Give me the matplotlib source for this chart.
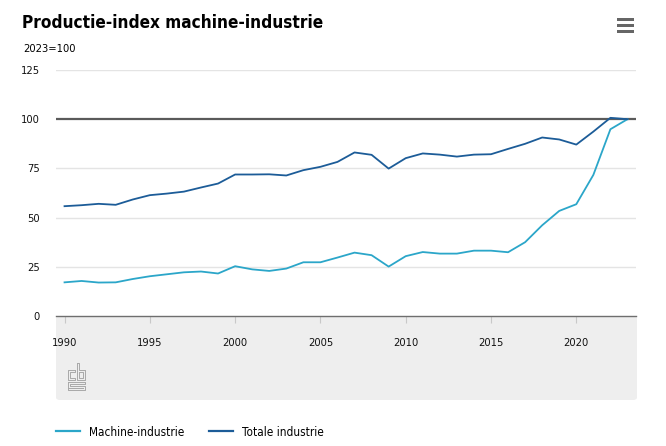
import matplotlib
matplotlib.use('Agg')
import matplotlib.pyplot as plt
from matplotlib import font_manager as fm
from matplotlib.patches import FancyBboxPatch, Rectangle
from matplotlib.lines import Line2D

# data (2023=100)
years = list(range(1990, 2024))
machine = [17.1, 17.8, 17.0, 17.1, 18.8, 20.2, 21.2, 22.2, 22.6, 21.6,
           25.3, 23.7, 22.9, 24.1, 27.3, 27.3, 29.7, 32.2, 30.9, 25.1,
           30.4, 32.5, 31.7, 31.7, 33.2, 33.2, 32.4, 37.5, 46.1, 53.4,
           56.8, 71.7, 94.9, 100.0]
totaal = [55.8, 56.3, 57.0, 56.5, 59.2, 61.4, 62.2, 63.2, 65.3, 67.3,
          71.9, 71.9, 72.0, 71.4, 74.1, 75.8, 78.3, 83.1, 81.9, 74.9,
          80.2, 82.6, 82.0, 81.0, 82.0, 82.2, 84.9, 87.5, 90.7, 89.7,
          87.1, 93.7, 100.7, 100.0]
yticks = [0, 25, 50, 75, 100, 125]
xticks = [1990, 1995, 2000, 2005, 2010, 2015, 2020]

c_machine = '#2ba6c9'
c_totaal = '#1c5c98'


# look for a narrow font, the CBS one is condensed
def find_font(keys, bold):
    for f in fm.fontManager.ttflist:
        fn = f.fname.replace('-', '').replace('_', '').lower()
        if not any(k in fn for k in keys):
            continue
        isbold = 'bold' in fn
        if isbold == bold and 'oblique' not in fn and 'italic' not in fn:
            return f.fname
    return None

keys = ['dejavusanscondensed', 'liberationsansnarrow', 'robotocondensed',
        'opensanscondensed']
reg_file = find_font(keys, False)
bold_file = find_font(keys, True)


def fp(size, bold=False):
    path = bold_file if bold else reg_file
    if path:
        return fm.FontProperties(fname=path, size=size)
    return fm.FontProperties(family='DejaVu Sans', size=size,
                             weight='bold' if bold else 'normal')


W, H = 666, 446
fig = plt.figure(figsize=(W / 100, H / 100), dpi=100)


def fx(px):
    return px / W


def fy(py):
    return 1 - py / H


# grey band under the x axis
band = FancyBboxPatch((fx(56), fy(400)), fx(637) - fx(56), fy(316) - fy(400),
                      boxstyle='round,pad=0,rounding_size=0.006',
                      transform=fig.transFigure, facecolor='#eeeeee',
                      edgecolor='none', zorder=-5)
fig.patches.append(band)

ax = fig.add_axes([fx(56), fy(316), fx(636) - fx(56), fy(70) - fy(316)])
ax.set_zorder(2)
ax.set_facecolor('none')
ax.set_xlim(1989.5, 2023.5)
ax.set_ylim(0, 125)

for v in yticks:
    if v == 0:
        continue
    if v == 100:
        ax.axhline(v, color='#5a5a5a', lw=1.6, zorder=1)
    else:
        ax.axhline(v, color='#e4e4e4', lw=1.0, zorder=0)

ax.plot(years, machine, color=c_machine, lw=1.3, label='Machine-industrie', zorder=3)
ax.plot(years, totaal, color=c_totaal, lw=1.3, label='Totale industrie', zorder=3)

for s in ['top', 'right', 'left']:
    ax.spines[s].set_visible(False)
ax.spines['bottom'].set_color('#6e6e6e')
ax.spines['bottom'].set_linewidth(1.0)

ax.set_yticks(yticks)
ax.set_xticks(xticks)
ax.tick_params(axis='y', length=0, pad=11.5)
ax.tick_params(axis='x', length=5, width=0.8, color='#c8c8c8', pad=10.5)
for lab in ax.get_yticklabels() + ax.get_xticklabels():
    lab.set_fontproperties(fp(8))
    lab.set_color('#111111')

# title and subtitle
fig.text(fx(22), fy(27.5), 'Productie-index machine-industrie',
         fontproperties=fp(12.3, bold=True), color='#000000')
fig.text(fx(23), fy(51.5), '2023=100', fontproperties=fp(8), color='#000000')

# menu icon
for top in (18, 24, 30):
    fig.patches.append(Rectangle((fx(617), fy(top + 3)), fx(17), fy(0) - fy(3),
                                 transform=fig.transFigure,
                                 facecolor='#666666', edgecolor='none'))

# cbs logo, drawn with thin grey strokes
logo = '#a8a8a8'
segs = [
    # c
    [(75, 370), (68, 370), (68, 380), (75, 380), (75, 378), (70, 378),
     (70, 372), (75, 372), (75, 370)],
    # b
    [(77, 363), (77, 380), (85, 380), (85, 370), (79, 370), (79, 363), (77, 363)],
    [(79, 372), (83, 372), (83, 378), (79, 378), (79, 372)],
    # s
    [(68, 382), (85, 382), (85, 384), (70, 384), (70, 385.5), (85, 385.5),
     (85, 390), (68, 390), (68, 388), (83, 388), (83, 387.5), (68, 387.5),
     (68, 382)],
]
for seg in segs:
    xs = [fx(p[0]) for p in seg]
    ys = [fy(p[1]) for p in seg]
    fig.lines.append(Line2D(xs, ys, transform=fig.transFigure, color=logo, lw=0.7))

# legend
leg = fig.legend(loc='center left', bbox_to_anchor=(fx(50), fy(432)), ncol=2,
                 frameon=False, borderpad=0, handlelength=2.0, handletextpad=0.8,
                 columnspacing=2.1, prop=fp(8.5))
for line in leg.get_lines():
    line.set_linewidth(1.6)

fig.savefig('out.png', dpi=100)
